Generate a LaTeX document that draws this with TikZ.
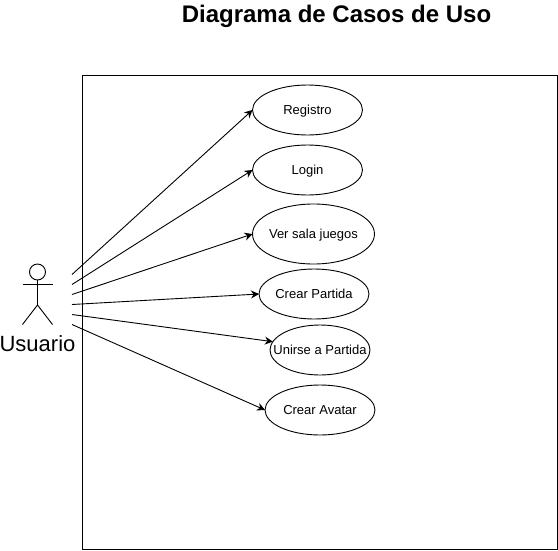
\documentclass[tikz,border=0pt]{standalone}
\usepackage{fontspec}
\setmainfont{Liberation Sans}
\usetikzlibrary{shapes.geometric,arrows.meta}
\tikzset{
  usecase/.style={draw,ellipse,line width=0.9pt,inner ysep=0pt,inner xsep=-20pt,outer sep=0pt,text height=10pt,text depth=2pt,font=\fontsize{13}{15}\selectfont},
  assoc/.style={-{Stealth[length=8pt,width=8pt]},line width=0.9pt},
  actorline/.style={line width=0.9pt}
}
\begin{document}
\begin{tikzpicture}[x=1pt,y=-1pt]
  \useasboundingbox (0,0) rectangle (558,550);
  \node[font=\fontsize{24}{28}\selectfont\bfseries] (title) at (336.5,16) {Diagrama de Casos de Uso};
  \draw[line width=1pt] (82.5,75) rectangle (557,549.5);

  % use cases
  \node[usecase,minimum width=110pt,minimum height=50pt] (registro) at (307.5,110) {Registro};
  \node[usecase,minimum width=110pt,minimum height=50pt] (login) at (307.5,170) {Login};
  \node[usecase,minimum width=122pt,minimum height=60pt] (versala) at (313.5,234) {Ver sala juegos};
  \node[usecase,minimum width=110pt,minimum height=50pt] (crearpartida) at (314,294) {Crear Partida};
  \node[usecase,minimum width=100pt,minimum height=50pt] (unirse) at (320,350) {Unirse a Partida};
  \node[usecase,minimum width=110pt,minimum height=50pt] (avatar) at (320,410) {Crear Avatar};

  % actor
  \node[draw,circle,actorline,minimum size=16pt,inner sep=0pt,outer sep=0pt] (head) at (37.5,272) {};
  \coordinate (hip) at (37.5,305);
  \coordinate (armL) at (22.5,284.5);
  \coordinate (armR) at (52.5,284.5);
  \coordinate (legL) at (22.5,324.5);
  \coordinate (legR) at (52.5,324.5);
  \draw[actorline] (head.south)--(hip);
  \draw[actorline] (armL)--(armR);
  \draw[actorline] (legL)--(hip)--(legR);
  \node[font=\fontsize{22}{25}\selectfont] (usuario) at (37.5,344) {Usuario};

  \coordinate (a1) at (72,274.5);
  \coordinate (a2) at (72,284.5);
  \coordinate (a3) at (72,294.5);
  \coordinate (a4) at (72,304.5);
  \coordinate (a5) at (72,314.5);
  \coordinate (a6) at (72,324.5);

  \draw[assoc] (a1)--(registro.west);
  \draw[assoc] (a2)--(login.west);
  \draw[assoc] (a3)--(versala.west);
  \draw[assoc] (a4)--(crearpartida.west);
  \draw[assoc] (a5)--(unirse.170);
  \draw[assoc] (a6)--(avatar.west);
\end{tikzpicture}
\end{document}
